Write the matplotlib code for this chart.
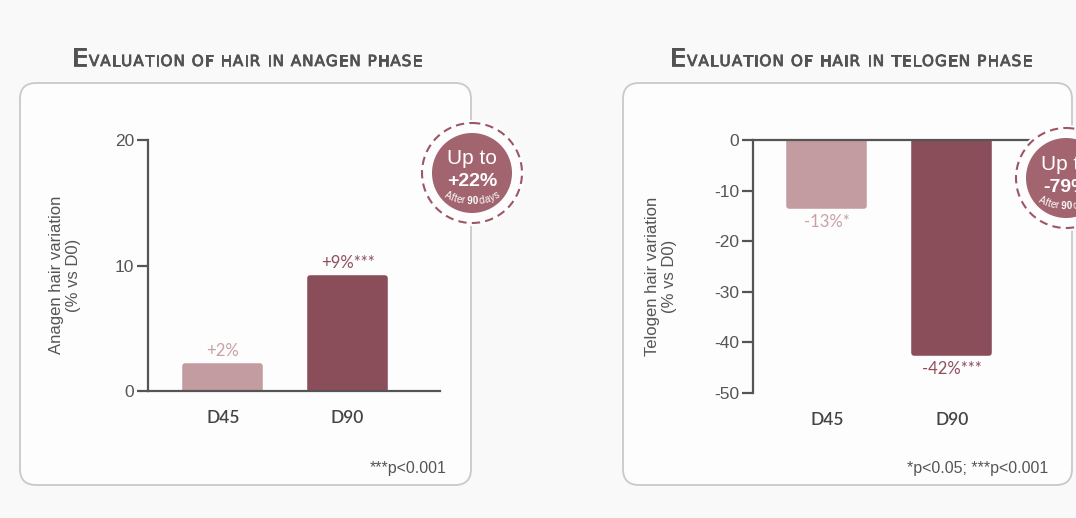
import matplotlib.pyplot as plt
import matplotlib.patheffects as pe
from matplotlib.patches import FancyBboxPatch, Circle
import numpy as np

W, H = 1076, 518

# Data
days = ['D45', 'D90']
anagen = [2, 9]
anagen_labels = ['+2%', '+9%***']
telogen = [-13, -42]
telogen_labels = ['-13%*', '-42%***']
anagen_ticks = [0, 10, 20]
telogen_ticks = [0, -10, -20, -30, -40, -50]

light = '#c39ca2'
dark = '#8a4d5a'
light_txt = '#c7a1a7'
dark_txt = '#8d4f5d'
badge_fill = '#a2646e'
badge_ring = '#9c5666'
ink = '#555555'

plt.rcParams['font.family'] = 'Liberation Sans'
plt.rcParams['axes.unicode_minus'] = False

fig = plt.figure(figsize=(W / 100, H / 100), dpi=100, facecolor='#f9f9f9')
renderer = fig.canvas.get_renderer()


def pixel_axes(zorder):
    # full-figure axes measured in pixels, y pointing down
    ax = fig.add_axes([0, 0, 1, 1], zorder=zorder)
    ax.set_xlim(0, W)
    ax.set_ylim(H, 0)
    ax.axis('off')
    ax.patch.set_alpha(0)
    return ax


bg = pixel_axes(0)
for x0, x1 in [(20, 471), (623, 1072)]:
    bg.add_patch(FancyBboxPatch((x0, 83), x1 - x0, 402,
                                boxstyle='round,pad=0,rounding_size=16',
                                fc='#fdfdfd', ec='#c9c9c9', lw=1.3))


def text_width(ax, s, **kw):
    t = ax.text(0, 0, s, **kw)
    w = t.get_window_extent(renderer).width
    t.remove()
    return w


def small_caps(ax, x0, x1, y, text):
    # first letter large, the rest as tracked small capitals
    color = '#525252'
    style = dict(color=color, family='DejaVu Sans', va='baseline', ha='left')
    heavier = [pe.withStroke(linewidth=0.6, foreground=color)]
    chars = [(text[0].upper(), 18)] + [(c.upper(), 11) for c in text[1:]]
    widths = []
    for c, fs in chars:
        if c == ' ':
            widths.append(text_width(ax, 'I I', fontsize=fs, **style)
                          - text_width(ax, 'II', fontsize=fs, **style))
        else:
            widths.append(text_width(ax, c, fontsize=fs, **style))
    gap = (x1 - x0 - sum(widths)) / (len(chars) - 1)
    x = x0
    for (c, fs), w in zip(chars, widths):
        if c != ' ':
            ax.text(x, y, c, fontsize=fs, path_effects=heavier, **style)
        x += w + gap


small_caps(bg, 72, 422, 66, 'Evaluation of hair in anagen phase')
small_caps(bg, 670, 1032, 66, 'Evaluation of hair in telogen phase')

bg.text(447, 468, '***p<0.001', fontsize=11.5, color=ink, ha='right', va='center')
bg.text(1048, 468, '*p<0.05; ***p<0.001', fontsize=11.5, color=ink, ha='right', va='center')


def bar_panel(box, values, labels, ticks, ylim, xlim, ylabel, label_xy, top_axis):
    left, top, right, bottom = box
    ax = fig.add_axes([left / W, (H - bottom) / H, (right - left) / W, (bottom - top) / H],
                      zorder=1)
    ax.patch.set_alpha(0)
    x = np.arange(len(days))
    ax.bar(x, values, width=0.6, color=[light, dark], edgecolor=[light, dark],
           linewidth=4, joinstyle='round')
    for i, (v, lab) in enumerate(zip(values, labels)):
        up = v >= 0
        ax.annotate(lab, (i, v), xytext=(0, 5 if up else -6), textcoords='offset points',
                    ha='center', va='bottom' if up else 'top', fontsize=12,
                    family='Lato', color=light_txt if i == 0 else dark_txt)
    ax.set_xlim(*xlim)
    ax.set_ylim(*ylim)
    ax.set_yticks(ticks)
    ax.set_xticks(x, days)
    for s in ax.spines.values():
        s.set_visible(False)
    for s in ['left', 'top' if top_axis else 'bottom']:
        ax.spines[s].set_visible(True)
        ax.spines[s].set_color(ink)
        ax.spines[s].set_linewidth(1.6)
    ax.tick_params(axis='y', length=8, width=1.6, color=ink, labelsize=12.5,
                   labelcolor=ink, pad=2)
    ax.tick_params(axis='x', length=0, pad=14, labelsize=12.5, labelcolor='#444444')
    for t in ax.get_xticklabels():
        t.set_family('Lato')
        t.set_weight('semibold')
    ax.set_ylabel(ylabel, fontsize=12, color=ink, linespacing=1.1)
    ax.yaxis.label.set_va('center')
    lx, ly = label_xy
    ax.yaxis.set_label_coords((lx - left) / (right - left), (bottom - ly) / (bottom - top))
    return ax


bar_panel((148, 140, 440, 391), anagen, anagen_labels, anagen_ticks, (0, 20), (-0.6, 1.74),
          'Anagen hair variation\n(% vs D0)', (65, 275), False)
bar_panel((753, 140, 1042, 393), telogen, telogen_labels, telogen_ticks, (-50, 0), (-0.59, 1.72),
          'Telogen hair variation\n(% vs D0)', (661, 276), True)

top = pixel_axes(3)


def badge(ax, cx, cy, value):
    ax.add_patch(Circle((cx, cy), 53, fc='#fdfdfd', ec='none'))
    ax.add_patch(Circle((cx, cy), 50, fc='none', ec=badge_ring, lw=1.5, ls=(0, (4, 2.5))))
    ax.add_patch(Circle((cx, cy), 40, fc=badge_fill, ec='none'))
    ax.text(cx, cy - 14, 'Up to', fontsize=15, color='white', ha='center', va='center')
    ax.text(cx, cy + 9, value, fontsize=14, color='white', weight='bold',
            ha='center', va='center')
    # small caption bent along a flat arc
    caption = 'After 90 days'
    fs = 7
    widths = [text_width(ax, ch if ch != ' ' else 'i', fontsize=fs) for ch in caption]
    r = 58
    arc_cy = cy + 28 - r
    total = sum(widths)
    s = 0
    for ch, w in zip(caption, widths):
        phi = (s + w / 2 - total / 2) / r
        s += w
        ax.text(cx + r * np.sin(phi), arc_cy + r * np.cos(phi), ch, fontsize=fs,
                color='white', ha='center', va='center', rotation=np.degrees(phi),
                rotation_mode='anchor', weight='bold' if ch in '90' else 'normal')


badge(top, 472, 173, '+22%')
badge(top, 1066, 178, '-79%')

fig.savefig('out.png', dpi=100, facecolor=fig.get_facecolor())
